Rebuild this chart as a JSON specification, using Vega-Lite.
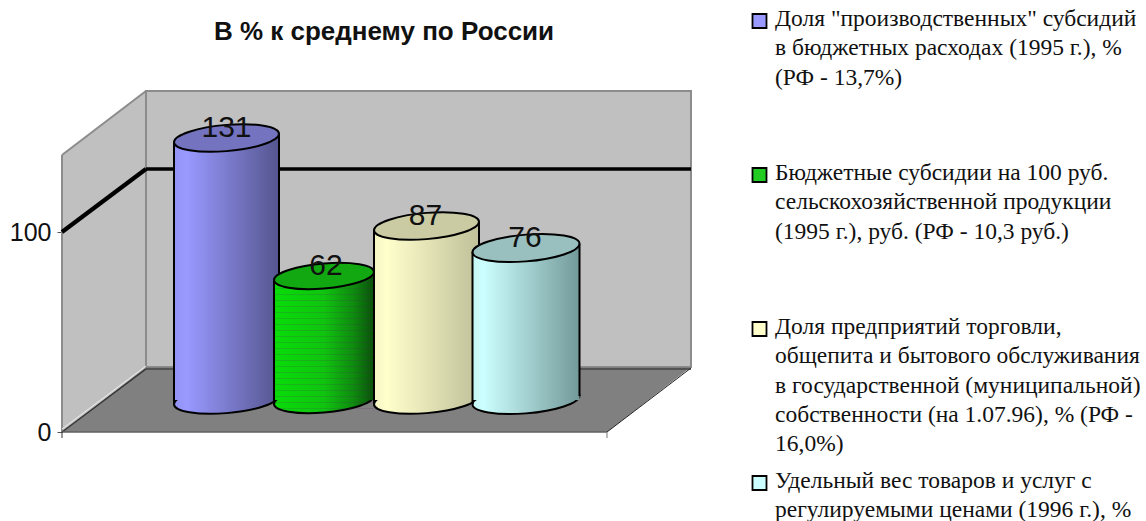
{"$schema":"https://vega.github.io/schema/vega-lite/v6.json","width":1146,"height":521,"padding":0,"autosize":"none","background":"white","config":{"view":{"stroke":null}},
"resolve":{"scale":{"x":"independent","y":"independent"}},
"data":{"values":[
{"cat":1,"value":131,"label":"Доля \"производственных\" субсидий\nв бюджетных расходах (1995 г.), %\n(РФ - 13,7%)"},
{"cat":2,"value":62,"label":"Бюджетные субсидии на 100 руб.\nсельскохозяйственной продукции\n(1995 г.), руб. (РФ - 10,3 руб.)"},
{"cat":3,"value":87,"label":"Доля предприятий торговли,\nобщепита и бытового обслуживания\nв государственной (муниципальной)\nсобственности (на 1.07.96), % (РФ -\n16,0%)"},
{"cat":4,"value":76,"label":"Удельный вес товаров и услуг с\nрегулируемыми ценами (1996 г.), %"}
]},
"layer":[
{"data":{"values":[{"l":15.41,"r":115.41}]},"mark":{"type":"rect","fill":"#c0c0c0","stroke":"#8c8c8c","strokeWidth":2},"encoding":{"x":{"field":"l","type":"quantitative","axis":null,"scale":{"domain":[-11.376,198.899],"nice":false}},"x2":{"field":"r"},"y":{"datum":32.5,"type":"quantitative","axis":null,"scale":{"domain":[-44.5,216],"range":[521,0],"nice":false}},"y2":{"datum":170.5}}},
{"data":{"values":[{"a":0,"low":0,"high":138.5},{"a":15.41,"low":32.5,"high":170.5}]},"mark":{"type":"area","fill":"#c0c0c0"},"encoding":{"x":{"field":"a","type":"quantitative","axis":null,"scale":{"domain":[-11.376,198.899],"nice":false}},"y":{"field":"low","type":"quantitative","stack":null,"axis":{"values":[0,100],"offset":-62,"domain":false,"grid":false,"title":null,"tickSize":5,"tickColor":"#555555","labelFont":"Liberation Sans","labelFontSize":25,"labelColor":"#111111","labelPadding":6},"scale":{"domain":[-44.5,216],"range":[521,0],"nice":false}},"y2":{"field":"high"}}},
{"data":{"values":[{"a":0,"low":0,"high":0},{"a":15.41,"low":0,"high":32.5},{"a":100,"low":0,"high":32.5},{"a":115.41,"low":32.5,"high":32.5}]},"mark":{"type":"area","fill":"#808080"},"encoding":{"x":{"field":"a","type":"quantitative","axis":null,"scale":{"domain":[-11.376,198.899],"nice":false}},"y":{"field":"low","type":"quantitative","stack":null,"axis":null,"scale":{"domain":[-44.5,216],"range":[521,0],"nice":false}},"y2":{"field":"high"}}},
{"data":{"values":[{"x":0,"x2":0,"y":0,"y2":138.5,"c":"#8c8c8c","w":2},{"x":0,"x2":15.41,"y":138.5,"y2":170.5,"c":"#8c8c8c","w":2},{"x":15.41,"x2":15.41,"y":32.5,"y2":170.5,"c":"#8c8c8c","w":2},{"x":0,"x2":15.41,"y":1.5,"y2":33,"c":"#eeeeee","w":1},{"x":0,"x2":15.41,"y":0,"y2":31.5,"c":"#333333","w":1.5},{"x":15.41,"x2":115.41,"y":31.5,"y2":31.5,"c":"#444444","w":1.5},{"x":0,"x2":100,"y":0,"y2":0,"c":"#606060","w":1.5},{"x":100,"x2":115.41,"y":0,"y2":32,"c":"#222222","w":1},{"x":0,"x2":0,"y":0,"y2":-3,"c":"#333333","w":1},{"x":100,"x2":100,"y":0,"y2":-3,"c":"#777777","w":1}]},"mark":{"type":"rule"},"encoding":{"x":{"field":"x","type":"quantitative","axis":null,"scale":{"domain":[-11.376,198.899],"nice":false}},"x2":{"field":"x2"},"y":{"field":"y","type":"quantitative","axis":null,"scale":{"domain":[-44.5,216],"range":[521,0],"nice":false}},"y2":{"field":"y2"},"color":{"field":"c","type":"nominal","scale":null},"strokeWidth":{"field":"w","type":"quantitative","scale":null}}},
{"data":{"values":[{"x":0,"x2":15.41,"y":100,"y2":131.5,"w":4.2},{"x":15.41,"x2":115.41,"y":131.5,"y2":131.5,"w":3.6}]},"mark":{"type":"rule","color":"black"},"encoding":{"x":{"field":"x","type":"quantitative","axis":null,"scale":{"domain":[-11.376,198.899],"nice":false}},"x2":{"field":"x2"},"y":{"field":"y","type":"quantitative","axis":null,"scale":{"domain":[-44.5,216],"range":[521,0],"nice":false}},"y2":{"field":"y2"},"strokeWidth":{"field":"w","type":"quantitative","scale":null}}},

{"transform":[{"filter":"datum.cat==1"}],"mark":{"type":"point","filled":true,"opacity":1,"shape":"M-1,0.08C-1,-0.058,-0.552,-0.206,0,-0.25C0.552,-0.294,1,-0.218,1,-0.08C1,0.058,0.552,0.206,0,0.25C-0.552,0.294,-1,0.218,-1,0.08Z","size":11025,"stroke":"black","strokeWidth":2,"yOffset":-32,"fill":{"gradient":"linear","x1":0,"x2":1,"y1":0,"y2":0,"stops":[{"offset":0,"color":"#9393f5"},{"offset":0.12,"color":"#9999ff"},{"offset":1,"color":"#55558f"}]}},"encoding":{"x":{"field":"cat","type":"nominal","axis":null,"scale":{"type":"band","domain":[1,2,3,4],"range":[176.75,574.75],"paddingInner":0,"paddingOuter":0}},"y":{"datum":0,"type":"quantitative","axis":null,"scale":{"domain":[-44.5,216],"range":[521,0],"nice":false}}}},
{"transform":[{"filter":"datum.cat==1"}],"mark":{"type":"rect","width":105,"yOffset":-32,"y2Offset":-32,"fill":{"gradient":"linear","x1":0,"x2":1,"y1":0,"y2":0,"stops":[{"offset":0,"color":"#9393f5"},{"offset":0.12,"color":"#9999ff"},{"offset":1,"color":"#55558f"}]}},"encoding":{"x":{"field":"cat","type":"nominal","axis":null,"scale":{"type":"band","domain":[1,2,3,4],"range":[176.75,574.75],"paddingInner":0,"paddingOuter":0}},"y":{"field":"value","type":"quantitative","axis":null,"scale":{"domain":[-44.5,216],"range":[521,0],"nice":false}},"y2":{"datum":0}}},
{"transform":[{"filter":"datum.cat==1"}],"mark":{"type":"rule","color":"black","strokeWidth":2,"xOffset":-52.5,"yOffset":-28,"y2Offset":-28},"encoding":{"x":{"field":"cat","type":"nominal","axis":null,"scale":{"type":"band","domain":[1,2,3,4],"range":[176.75,574.75],"paddingInner":0,"paddingOuter":0}},"y":{"field":"value","type":"quantitative","axis":null,"scale":{"domain":[-44.5,216],"range":[521,0],"nice":false}},"y2":{"datum":0}}},
{"transform":[{"filter":"datum.cat==1"}],"mark":{"type":"rule","color":"black","strokeWidth":2,"xOffset":52.5,"yOffset":-36,"y2Offset":-36},"encoding":{"x":{"field":"cat","type":"nominal","axis":null,"scale":{"type":"band","domain":[1,2,3,4],"range":[176.75,574.75],"paddingInner":0,"paddingOuter":0}},"y":{"field":"value","type":"quantitative","axis":null,"scale":{"domain":[-44.5,216],"range":[521,0],"nice":false}},"y2":{"datum":0}}},
{"transform":[{"filter":"datum.cat==1"}],"mark":{"type":"point","filled":true,"opacity":1,"shape":"M-1,0.08C-1,-0.058,-0.552,-0.206,0,-0.25C0.552,-0.294,1,-0.218,1,-0.08C1,0.058,0.552,0.206,0,0.25C-0.552,0.294,-1,0.218,-1,0.08Z","size":11025,"stroke":"black","strokeWidth":2,"yOffset":-32,"fill":"#7373bf"},"encoding":{"x":{"field":"cat","type":"nominal","axis":null,"scale":{"type":"band","domain":[1,2,3,4],"range":[176.75,574.75],"paddingInner":0,"paddingOuter":0}},"y":{"field":"value","type":"quantitative","axis":null,"scale":{"domain":[-44.5,216],"range":[521,0],"nice":false}}}},

{"transform":[{"filter":"datum.cat==2"}],"mark":{"type":"point","filled":true,"opacity":1,"shape":"M-1,0.08C-1,-0.058,-0.552,-0.206,0,-0.25C0.552,-0.294,1,-0.218,1,-0.08C1,0.058,0.552,0.206,0,0.25C-0.552,0.294,-1,0.218,-1,0.08Z","size":10000,"stroke":"black","strokeWidth":2,"yOffset":-32,"xOffset":-2,"fill":{"gradient":"linear","x1":0,"x2":1,"y1":0,"y2":0,"stops":[{"offset":0,"color":"#08dd08"},{"offset":0.5,"color":"#0fc40f"},{"offset":0.8,"color":"#0e8a0e"},{"offset":1,"color":"#0a4f0a"}]}},"encoding":{"x":{"field":"cat","type":"nominal","axis":null,"scale":{"type":"band","domain":[1,2,3,4],"range":[176.75,574.75],"paddingInner":0,"paddingOuter":0}},"y":{"datum":0,"type":"quantitative","axis":null,"scale":{"domain":[-44.5,216],"range":[521,0],"nice":false}}}},
{"transform":[{"filter":"datum.cat==2"}],"mark":{"type":"rect","width":100,"xOffset":-2,"yOffset":-32,"y2Offset":-32,"fill":{"gradient":"linear","x1":0,"x2":1,"y1":0,"y2":0,"stops":[{"offset":0,"color":"#08dd08"},{"offset":0.5,"color":"#0fc40f"},{"offset":0.8,"color":"#0e8a0e"},{"offset":1,"color":"#0a4f0a"}]}},"encoding":{"x":{"field":"cat","type":"nominal","axis":null,"scale":{"type":"band","domain":[1,2,3,4],"range":[176.75,574.75],"paddingInner":0,"paddingOuter":0}},"y":{"field":"value","type":"quantitative","axis":null,"scale":{"domain":[-44.5,216],"range":[521,0],"nice":false}},"y2":{"datum":0}}},
{"transform":[{"filter":"datum.cat==2"}],"mark":{"type":"rule","color":"#5a1f6a","opacity":0.16,"strokeWidth":99,"strokeDash":[1,5],"xOffset":-2,"yOffset":-32,"y2Offset":-22},"encoding":{"x":{"field":"cat","type":"nominal","axis":null,"scale":{"type":"band","domain":[1,2,3,4],"range":[176.75,574.75],"paddingInner":0,"paddingOuter":0}},"y":{"field":"value","type":"quantitative","axis":null,"scale":{"domain":[-44.5,216],"range":[521,0],"nice":false}},"y2":{"datum":0}}},
{"transform":[{"filter":"datum.cat==2"}],"mark":{"type":"rule","color":"black","strokeWidth":2,"xOffset":-52,"yOffset":-28,"y2Offset":-28},"encoding":{"x":{"field":"cat","type":"nominal","axis":null,"scale":{"type":"band","domain":[1,2,3,4],"range":[176.75,574.75],"paddingInner":0,"paddingOuter":0}},"y":{"field":"value","type":"quantitative","axis":null,"scale":{"domain":[-44.5,216],"range":[521,0],"nice":false}},"y2":{"datum":0}}},
{"transform":[{"filter":"datum.cat==2"}],"mark":{"type":"rule","color":"black","strokeWidth":2,"xOffset":48,"yOffset":-36,"y2Offset":-36},"encoding":{"x":{"field":"cat","type":"nominal","axis":null,"scale":{"type":"band","domain":[1,2,3,4],"range":[176.75,574.75],"paddingInner":0,"paddingOuter":0}},"y":{"field":"value","type":"quantitative","axis":null,"scale":{"domain":[-44.5,216],"range":[521,0],"nice":false}},"y2":{"datum":0}}},
{"transform":[{"filter":"datum.cat==2"}],"mark":{"type":"point","filled":true,"opacity":1,"shape":"M-1,0.08C-1,-0.058,-0.552,-0.206,0,-0.25C0.552,-0.294,1,-0.218,1,-0.08C1,0.058,0.552,0.206,0,0.25C-0.552,0.294,-1,0.218,-1,0.08Z","size":10000,"stroke":"black","strokeWidth":2,"yOffset":-32,"xOffset":-2,"fill":"#12a812"},"encoding":{"x":{"field":"cat","type":"nominal","axis":null,"scale":{"type":"band","domain":[1,2,3,4],"range":[176.75,574.75],"paddingInner":0,"paddingOuter":0}},"y":{"field":"value","type":"quantitative","axis":null,"scale":{"domain":[-44.5,216],"range":[521,0],"nice":false}}}},

{"transform":[{"filter":"datum.cat==3"}],"mark":{"type":"point","filled":true,"opacity":1,"shape":"M-1,0.08C-1,-0.058,-0.552,-0.206,0,-0.25C0.552,-0.294,1,-0.218,1,-0.08C1,0.058,0.552,0.206,0,0.25C-0.552,0.294,-1,0.218,-1,0.08Z","size":11025,"stroke":"black","strokeWidth":2,"yOffset":-32,"xOffset":1,"fill":{"gradient":"linear","x1":0,"x2":1,"y1":0,"y2":0,"stops":[{"offset":0,"color":"#f5f5c4"},{"offset":0.12,"color":"#ffffcc"},{"offset":1,"color":"#c0c09a"}]}},"encoding":{"x":{"field":"cat","type":"nominal","axis":null,"scale":{"type":"band","domain":[1,2,3,4],"range":[176.75,574.75],"paddingInner":0,"paddingOuter":0}},"y":{"datum":0,"type":"quantitative","axis":null,"scale":{"domain":[-44.5,216],"range":[521,0],"nice":false}}}},
{"transform":[{"filter":"datum.cat==3"}],"mark":{"type":"rect","width":105,"xOffset":1,"yOffset":-32,"y2Offset":-32,"fill":{"gradient":"linear","x1":0,"x2":1,"y1":0,"y2":0,"stops":[{"offset":0,"color":"#f5f5c4"},{"offset":0.12,"color":"#ffffcc"},{"offset":1,"color":"#c0c09a"}]}},"encoding":{"x":{"field":"cat","type":"nominal","axis":null,"scale":{"type":"band","domain":[1,2,3,4],"range":[176.75,574.75],"paddingInner":0,"paddingOuter":0}},"y":{"field":"value","type":"quantitative","axis":null,"scale":{"domain":[-44.5,216],"range":[521,0],"nice":false}},"y2":{"datum":0}}},
{"transform":[{"filter":"datum.cat==3"}],"mark":{"type":"rule","color":"black","strokeWidth":2,"xOffset":-51.5,"yOffset":-28,"y2Offset":-28},"encoding":{"x":{"field":"cat","type":"nominal","axis":null,"scale":{"type":"band","domain":[1,2,3,4],"range":[176.75,574.75],"paddingInner":0,"paddingOuter":0}},"y":{"field":"value","type":"quantitative","axis":null,"scale":{"domain":[-44.5,216],"range":[521,0],"nice":false}},"y2":{"datum":0}}},
{"transform":[{"filter":"datum.cat==3"}],"mark":{"type":"rule","color":"black","strokeWidth":2,"xOffset":53.5,"yOffset":-36,"y2Offset":-36},"encoding":{"x":{"field":"cat","type":"nominal","axis":null,"scale":{"type":"band","domain":[1,2,3,4],"range":[176.75,574.75],"paddingInner":0,"paddingOuter":0}},"y":{"field":"value","type":"quantitative","axis":null,"scale":{"domain":[-44.5,216],"range":[521,0],"nice":false}},"y2":{"datum":0}}},
{"transform":[{"filter":"datum.cat==3"}],"mark":{"type":"point","filled":true,"opacity":1,"shape":"M-1,0.08C-1,-0.058,-0.552,-0.206,0,-0.25C0.552,-0.294,1,-0.218,1,-0.08C1,0.058,0.552,0.206,0,0.25C-0.552,0.294,-1,0.218,-1,0.08Z","size":11025,"stroke":"black","strokeWidth":2,"yOffset":-32,"xOffset":1,"fill":"#cbcba3"},"encoding":{"x":{"field":"cat","type":"nominal","axis":null,"scale":{"type":"band","domain":[1,2,3,4],"range":[176.75,574.75],"paddingInner":0,"paddingOuter":0}},"y":{"field":"value","type":"quantitative","axis":null,"scale":{"domain":[-44.5,216],"range":[521,0],"nice":false}}}},

{"transform":[{"filter":"datum.cat==4"}],"mark":{"type":"point","filled":true,"opacity":1,"shape":"M-1,0.08C-1,-0.058,-0.552,-0.206,0,-0.25C0.552,-0.294,1,-0.218,1,-0.08C1,0.058,0.552,0.206,0,0.25C-0.552,0.294,-1,0.218,-1,0.08Z","size":11449,"stroke":"black","strokeWidth":2,"yOffset":-32,"xOffset":1,"fill":{"gradient":"linear","x1":0,"x2":1,"y1":0,"y2":0,"stops":[{"offset":0,"color":"#c4f5f5"},{"offset":0.1,"color":"#ccffff"},{"offset":1,"color":"#739999"}]}},"encoding":{"x":{"field":"cat","type":"nominal","axis":null,"scale":{"type":"band","domain":[1,2,3,4],"range":[176.75,574.75],"paddingInner":0,"paddingOuter":0}},"y":{"datum":0,"type":"quantitative","axis":null,"scale":{"domain":[-44.5,216],"range":[521,0],"nice":false}}}},
{"transform":[{"filter":"datum.cat==4"}],"mark":{"type":"rect","width":107,"xOffset":1,"yOffset":-32,"y2Offset":-32,"fill":{"gradient":"linear","x1":0,"x2":1,"y1":0,"y2":0,"stops":[{"offset":0,"color":"#c4f5f5"},{"offset":0.1,"color":"#ccffff"},{"offset":1,"color":"#739999"}]}},"encoding":{"x":{"field":"cat","type":"nominal","axis":null,"scale":{"type":"band","domain":[1,2,3,4],"range":[176.75,574.75],"paddingInner":0,"paddingOuter":0}},"y":{"field":"value","type":"quantitative","axis":null,"scale":{"domain":[-44.5,216],"range":[521,0],"nice":false}},"y2":{"datum":0}}},
{"transform":[{"filter":"datum.cat==4"}],"mark":{"type":"rule","color":"black","strokeWidth":2,"xOffset":-52.5,"yOffset":-28,"y2Offset":-28},"encoding":{"x":{"field":"cat","type":"nominal","axis":null,"scale":{"type":"band","domain":[1,2,3,4],"range":[176.75,574.75],"paddingInner":0,"paddingOuter":0}},"y":{"field":"value","type":"quantitative","axis":null,"scale":{"domain":[-44.5,216],"range":[521,0],"nice":false}},"y2":{"datum":0}}},
{"transform":[{"filter":"datum.cat==4"}],"mark":{"type":"rule","color":"black","strokeWidth":2,"xOffset":54.5,"yOffset":-36,"y2Offset":-36},"encoding":{"x":{"field":"cat","type":"nominal","axis":null,"scale":{"type":"band","domain":[1,2,3,4],"range":[176.75,574.75],"paddingInner":0,"paddingOuter":0}},"y":{"field":"value","type":"quantitative","axis":null,"scale":{"domain":[-44.5,216],"range":[521,0],"nice":false}},"y2":{"datum":0}}},
{"transform":[{"filter":"datum.cat==4"}],"mark":{"type":"point","filled":true,"opacity":1,"shape":"M-1,0.08C-1,-0.058,-0.552,-0.206,0,-0.25C0.552,-0.294,1,-0.218,1,-0.08C1,0.058,0.552,0.206,0,0.25C-0.552,0.294,-1,0.218,-1,0.08Z","size":11449,"stroke":"black","strokeWidth":2,"yOffset":-32,"xOffset":1,"fill":"#99bfbf"},"encoding":{"x":{"field":"cat","type":"nominal","axis":null,"scale":{"type":"band","domain":[1,2,3,4],"range":[176.75,574.75],"paddingInner":0,"paddingOuter":0}},"y":{"field":"value","type":"quantitative","axis":null,"scale":{"domain":[-44.5,216],"range":[521,0],"nice":false}}}},

{"mark":{"type":"text","font":"Liberation Sans","fontSize":30,"color":"#111111","baseline":"middle","align":"center","yOffset":-42},"encoding":{"x":{"field":"cat","type":"nominal","axis":null,"scale":{"type":"band","domain":[1,2,3,4],"range":[176.75,574.75],"paddingInner":0,"paddingOuter":0}},"y":{"field":"value","type":"quantitative","axis":null,"scale":{"domain":[-44.5,216],"range":[521,0],"nice":false}},"text":{"field":"value","type":"quantitative"}}},

{"mark":{"type":"point","shape":"square","filled":true,"opacity":1,"size":196,"stroke":"black","strokeWidth":1.8},"encoding":{"x":{"datum":127.98,"type":"quantitative","axis":null,"scale":{"domain":[-11.376,198.899],"nice":false}},"y":{"field":"cat","type":"nominal","axis":null,"scale":{"type":"point","domain":[1,2,3,4],"range":[21,483],"padding":0}},"fill":{"field":"cat","type":"nominal","legend":null,"scale":{"domain":[1,2,3,4],"range":["#9999ff","#22cc22","#ffffcc","#ccffff"]}}}},
{"mark":{"type":"text","font":"Liberation Serif","fontSize":23.5,"color":"#111111","align":"left","baseline":"top","lineBreak":"\n","lineHeight":29.3,"yOffset":-14},"encoding":{"x":{"datum":130.83,"type":"quantitative","axis":null,"scale":{"domain":[-11.376,198.899],"nice":false}},"y":{"field":"cat","type":"nominal","axis":null,"scale":{"type":"point","domain":[1,2,3,4],"range":[21,483],"padding":0}},"text":{"field":"label","type":"nominal"}}},
{"data":{"values":[{"t":"В % к среднему по России"}]},"mark":{"type":"text","font":"Liberation Sans","fontSize":26,"fontWeight":"bold","color":"#111111","align":"center","baseline":"middle"},"encoding":{"x":{"datum":59.08,"type":"quantitative","axis":null,"scale":{"domain":[-11.376,198.899],"nice":false}},"y":{"datum":200,"type":"quantitative","axis":null,"scale":{"domain":[-44.5,216],"range":[521,0],"nice":false}},"text":{"field":"t","type":"nominal"}}}
]}
